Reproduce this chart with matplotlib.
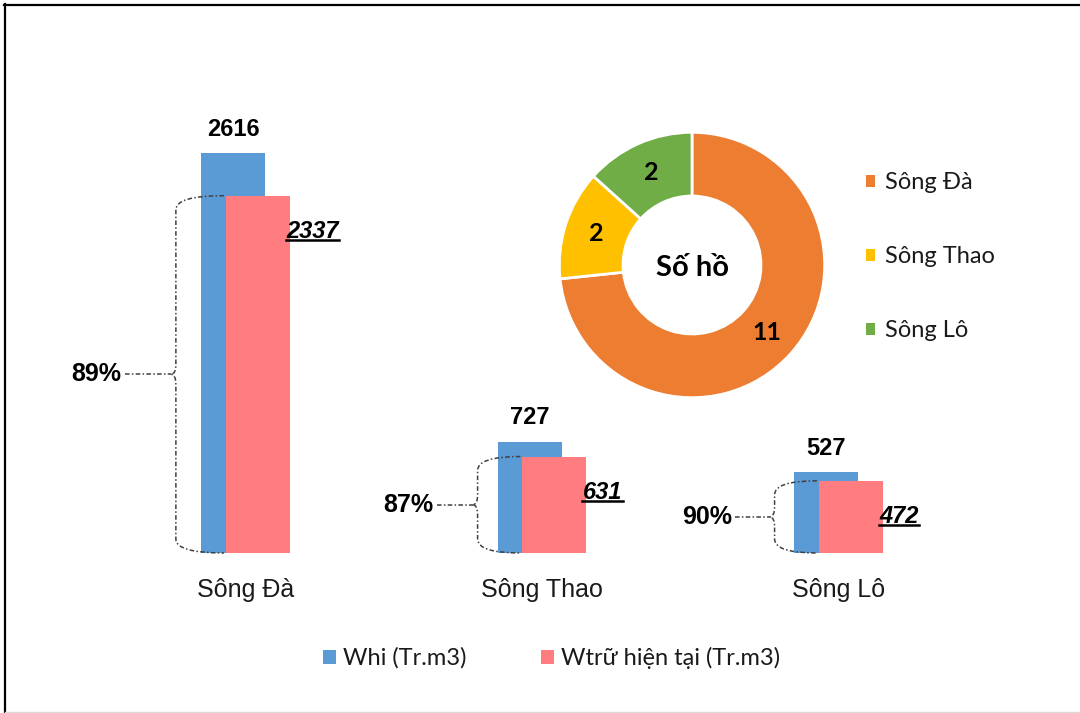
import matplotlib
matplotlib.use('Agg')
import matplotlib.pyplot as plt
from matplotlib.patches import Patch, PathPatch
from matplotlib.path import Path
from matplotlib.lines import Line2D
from matplotlib.transforms import IdentityTransform
import numpy as np

# ---------------- data ----------------
categories = ['Sông Đà', 'Sông Thao', 'Sông Lô']
w_hi = [2616, 727, 527]
w_tru = [2337, 631, 472]
pct_labels = ['89%', '87%', '90%']
lake_names = ['Sông Đà', 'Sông Thao', 'Sông Lô']
lake_counts = [11, 2, 2]
series_names = ['Whi (Tr.m3)', 'Wtrữ hiện tại (Tr.m3)']

# ---------------- style ----------------
C_BLUE = '#5B9BD5'
C_PINK = '#FF7C80'
PIE_COLORS = ['#ED7D31', '#FFC000', '#70AD47']
ARIAL = ['Liberation Sans', 'DejaVu Sans']
CALIBRI = ['Lato', 'DejaVu Sans']

W, H = 1080, 713
fig = plt.figure(figsize=(W / 100, H / 100), dpi=100)
fig.patch.set_facecolor('white')


def fx(px):
    return px / W


def fy(py):
    return 1 - py / H


# ---------------- bar axes ----------------
ymax = 3000
px_per_unit = 400 / 2616
ax_top = 553 - ymax * px_per_unit
left_px, right_px = 97.25, 986.75
ax = fig.add_axes([fx(left_px), fy(553), (right_px - left_px) / W, (553 - ax_top) / H])
ax.set_xlim(-0.5, 2.5)
ax.set_ylim(0, ymax)
for s in ax.spines.values():
    s.set_visible(False)
ax.set_yticks([])

x = np.arange(len(categories))
bw = 0.216
off = 0.042
bars_b = ax.bar(x - off, w_hi, width=bw, color=C_BLUE, zorder=2, label=series_names[0])
bars_r = ax.bar(x + off, w_tru, width=bw, color=C_PINK, zorder=3, label=series_names[1])

ax.set_xticks(x)
ax.set_xticklabels(categories, fontsize=18, family=ARIAL, color='#1a1a1a')
ax.tick_params(axis='x', length=0, pad=18)

# value labels on blue bars
for i in range(len(x)):
    ax.annotate(str(w_hi[i]), (x[i] - off, w_hi[i]), xytext=(0, 24),
                textcoords='offset pixels', ha='center', va='center',
                fontsize=17, fontweight='bold', family=ARIAL, color='black')

# value labels on red bars (italic, underlined)
red_texts = []
for i in range(len(x)):
    t = ax.annotate(str(w_tru[i]), (x[i] + off + bw / 2, w_tru[i]), xytext=(-4, -36),
                    textcoords='offset pixels', ha='left', va='center',
                    fontsize=17, fontweight='bold', fontstyle='italic',
                    family=ARIAL, color='black', zorder=5)
    red_texts.append(t)

fig.canvas.draw()
renderer = fig.canvas.get_renderer()
for t in red_texts:
    bb = t.get_window_extent(renderer)
    fig.add_artist(Line2D([bb.x0, bb.x1 + 1], [bb.y0 + 3, bb.y0 + 3],
                          transform=IdentityTransform(), color='black', lw=1.8))

# braces
def draw_brace(i):
    blue_left = ax.transData.transform((x[i] - off - bw / 2, 0))[0]
    red_left = ax.transData.transform((x[i] + off - bw / 2, 0))[0]
    top = ax.transData.transform((0, w_tru[i]))[1]
    bot = ax.transData.transform((0, 0))[1]
    height = top - bot
    xb = blue_left - 18 - 0.02 * height
    xr = red_left - 2
    mid = (top + bot) / 2
    r = min(14, height / 5)
    r2 = min(10, height / 6)
    d = 5
    verts = [(xr, top), (xb, top), (xb, top - r),
             (xb, mid + r2),
             (xb, mid), (xb - d, mid),
             (xb, mid), (xb, mid - r2),
             (xb, bot + r),
             (xb, bot), (xr, bot)]
    codes = [Path.MOVETO, Path.CURVE3, Path.CURVE3,
             Path.LINETO,
             Path.CURVE3, Path.CURVE3,
             Path.CURVE3, Path.CURVE3,
             Path.LINETO,
             Path.CURVE3, Path.CURVE3]
    pp = PathPatch(Path(verts, codes), fill=False, edgecolor='#404040', lw=1.1,
                   linestyle=(0, (3, 1.5, 1, 1.5)), transform=IdentityTransform(),
                   zorder=6)
    fig.add_artist(pp)
    gap = 32 + 0.04 * height
    fig.add_artist(Line2D([xb - d - gap, xb - d], [mid, mid], transform=IdentityTransform(),
                          color='#404040', lw=1.1, linestyle=(0, (3, 1.5, 1, 1.5))))
    fig.text(xb - d - gap - 3, mid, pct_labels[i], transform=IdentityTransform(),
             ha='right', va='center', fontsize=18, fontweight='bold',
             family=ARIAL, color='black')


for i in range(len(x)):
    draw_brace(i)

# bottom legend
fig.legend(handles=[Patch(facecolor=C_BLUE), Patch(facecolor=C_PINK)],
           labels=series_names, loc='center left',
           bbox_to_anchor=(fx(323), fy(658)), ncol=2, frameon=False,
           borderpad=0, borderaxespad=0, handlelength=0.55, handleheight=0.55,
           handletextpad=0.3, columnspacing=3.15,
           prop=dict(family=CALIBRI, size=17), labelcolor='#1a1a1a')

# ---------------- donut ----------------
R = 134
dax = fig.add_axes([fx(692 - R), fy(265 + R), 2 * R / W, 2 * R / H])
total = sum(lake_counts)
wedges, _, autotexts = dax.pie(
    lake_counts, colors=PIE_COLORS, startangle=90, counterclock=False, radius=1,
    wedgeprops=dict(width=0.48, edgecolor='white', linewidth=2),
    autopct=lambda p: f'{round(p * total / 100)}', pctdistance=0.76,
    textprops=dict(fontsize=18, fontweight='bold', family=CALIBRI, color='black'))
dax.set_xlim(-1.01, 1.01)
dax.set_ylim(-1.01, 1.01)
dax.text(0, -0.02, 'Số hồ', ha='center', va='center', fontsize=21,
         fontweight='bold', family=CALIBRI, color='black')

fig.legend(handles=[Patch(facecolor=c) for c in PIE_COLORS], labels=lake_names,
           loc='upper left', bbox_to_anchor=(fx(866), fy(172)), frameon=False,
           borderpad=0, borderaxespad=0, handlelength=0.4, handleheight=0.4,
           handletextpad=0.4, labelspacing=2.25,
           prop=dict(family=CALIBRI, size=17), labelcolor='#1a1a1a')

# ---------------- frame ----------------
fig.add_artist(Line2D([fx(4), 1], [fy(4.5), fy(4.5)], transform=fig.transFigure,
                      color='black', lw=1.6))
fig.add_artist(Line2D([fx(5), fx(5)], [fy(4), 0], transform=fig.transFigure,
                      color='black', lw=1.6))
fig.add_artist(Line2D([fx(5), 1], [fy(711.5), fy(711.5)], transform=fig.transFigure,
                      color='#d9d9d9', lw=1.0))

fig.savefig('out.png', dpi=100, facecolor='white')
